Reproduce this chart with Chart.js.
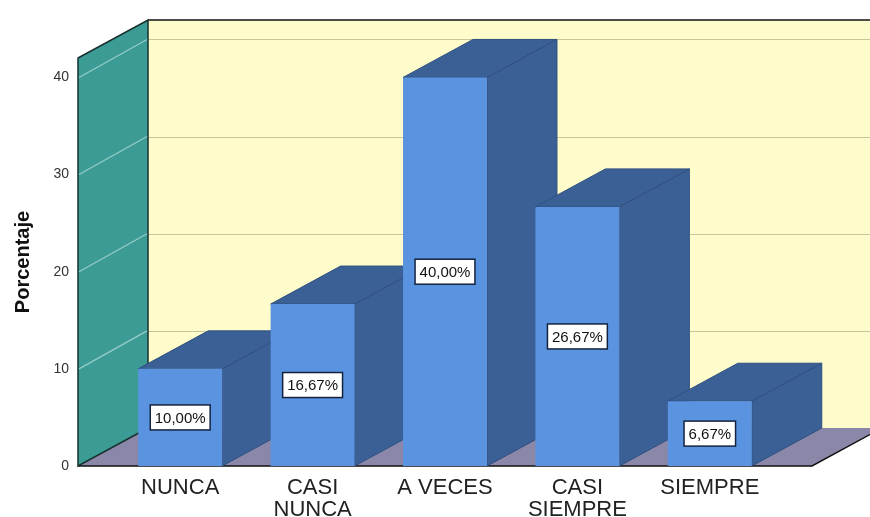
<!DOCTYPE html>
<html>
<head>
<meta charset="utf-8">
<script src="https://cdn.jsdelivr.net/npm/chart.js@4.4.1/dist/chart.umd.min.js"></script>
<style>
  body { margin: 0; background: #ffffff; }
  #wrap { width: 870px; height: 517px; }
</style>
</head>
<body>
<div id="wrap"><canvas id="myChart"></canvas></div>
<script>
// data
var categories = [['NUNCA'], ['CASI', 'NUNCA'], ['A VECES'], ['CASI', 'SIEMPRE'], ['SIEMPRE']];
var percentages = [10.00, 16.67, 40.00, 26.67, 6.67];
var tickValues = [0, 10, 20, 30, 40];
var yMax = 42;

// look of the fake 3d box
const DX = 70, DY = -38, SIDE = 36;
const frontColor = '#5a93df';
const darkColor = '#3a6096';

function pct(v){
    return v.toFixed(2).replace('.', ',') + '%';
}

function poly(ctx, pts, fill, stroke, lw){
    ctx.beginPath();
    ctx.moveTo(pts[0][0], pts[0][1]);
    for (var i = 1; i < pts.length; i++) ctx.lineTo(pts[i][0], pts[i][1]);
    ctx.closePath();
    if (fill){ ctx.fillStyle = fill; ctx.fill(); }
    if (stroke){ ctx.strokeStyle = stroke; ctx.lineWidth = lw || 1; ctx.stroke(); }
}

// walls, floor and grid drawn behind the bars
const box3d = {
    id: 'box3d',
    beforeDraw(chart){
        const ctx = chart.ctx, a = chart.chartArea, ys = chart.scales.y;
        const x0 = a.left - SIDE, x1 = a.right + SIDE;
        const yb = ys.getPixelForValue(0), yt = ys.getPixelForValue(yMax);
        ctx.save();
        // back wall
        ctx.fillStyle = '#fffccc';
        ctx.fillRect(x0 + DX, yt + DY, chart.width, yb - yt);
        // back wall grid
        ctx.strokeStyle = '#c8c59c';
        ctx.lineWidth = 1;
        tickValues.forEach(function(v){
            if (v === 0) return;
            let py = Math.round(ys.getPixelForValue(v) + DY) + 0.5;
            ctx.beginPath(); ctx.moveTo(x0 + DX, py); ctx.lineTo(chart.width, py); ctx.stroke();
        });
        // floor
        poly(ctx, [[x0, yb], [x1, yb], [x1 + DX, yb + DY], [x0 + DX, yb + DY]], '#8b87a8');
        ctx.strokeStyle = '#111'; ctx.lineWidth = 1.5;
        ctx.beginPath(); ctx.moveTo(x0, yb); ctx.lineTo(x1, yb); ctx.lineTo(x1 + DX, yb + DY); ctx.stroke();
        // top edge of back wall
        ctx.beginPath(); ctx.moveTo(x0 + DX, yt + DY); ctx.lineTo(chart.width, yt + DY); ctx.stroke();
        // left wall
        poly(ctx, [[x0, yt], [x0 + DX, yt + DY], [x0 + DX, yb + DY], [x0, yb]], '#3c9b95', '#16302e', 1.5);
        ctx.strokeStyle = 'rgba(225,245,240,0.55)'; ctx.lineWidth = 1.2;
        tickValues.forEach(function(v){
            if (v === 0) return;
            let py = ys.getPixelForValue(v);
            ctx.beginPath(); ctx.moveTo(x0 + 1, py); ctx.lineTo(x0 + DX - 1, py + DY); ctx.stroke();
        });
        ctx.restore();
    },
    // top and side faces of each bar, the library draws the fronts over them
    beforeDatasetsDraw(chart){
        const ctx = chart.ctx;
        ctx.save();
        chart.getDatasetMeta(0).data.forEach(function(bar){
            let l = bar.x - bar.width / 2, r = bar.x + bar.width / 2, t = bar.y, b = bar.base;
            poly(ctx, [[r, t], [r + DX, t + DY], [r + DX, b + DY], [r, b]], darkColor, '#2f5080', 1);
            poly(ctx, [[l, t], [r, t], [r + DX, t + DY], [l + DX, t + DY]], darkColor, '#2f5080', 1);
        });
        ctx.restore();
    },
    // value boxes in the middle of each bar
    afterDatasetsDraw(chart){
        const ctx = chart.ctx;
        ctx.save();
        ctx.font = '15px "Liberation Sans", Arial, sans-serif';
        ctx.textAlign = 'center';
        ctx.textBaseline = 'middle';
        chart.getDatasetMeta(0).data.forEach(function(bar, i){
            let txt = pct(percentages[i]);
            let w = ctx.measureText(txt).width + 9, h = 25;
            let cy = (bar.y + bar.base) / 2;
            ctx.fillStyle = '#ffffff';
            ctx.fillRect(bar.x - w / 2, cy - h / 2, w, h);
            ctx.strokeStyle = '#13233f'; ctx.lineWidth = 1.5;
            ctx.strokeRect(bar.x - w / 2, cy - h / 2, w, h);
            ctx.fillStyle = '#111';
            ctx.fillText(txt, bar.x, cy + 1);
        });
        ctx.restore();
    }
};

var ctx = document.getElementById('myChart');
var barChart = new Chart(ctx, {
    type: 'bar',
    data: {
        labels: categories,
        datasets: [{
            data: percentages,
            backgroundColor: frontColor,
            borderWidth: 0,
            barPercentage: 0.634,
            categoryPercentage: 1
        }]
    },
    options: {
        responsive: true,
        maintainAspectRatio: false,
        animation: false,
        devicePixelRatio: 1,
        layout: { padding: { top: 58, right: 94, left: 0, bottom: 0 } },
        plugins: { legend: { display: false }, tooltip: { enabled: false } },
        scales: {
            x: {
                grid: { display: false, drawTicks: false },
                border: { display: false },
                ticks: {
                    color: '#222',
                    padding: 11,
                    maxRotation: 0,
                    font: { family: '"Liberation Sans", Arial, sans-serif', size: 22, lineHeight: 1.0 }
                },
                afterFit: function(s){ s.height = 51; }
            },
            y: {
                min: 0,
                max: yMax,
                grid: { display: false, drawTicks: false },
                border: { display: false },
                ticks: {
                    stepSize: 10,
                    color: '#333',
                    padding: 45,
                    font: { family: '"Liberation Sans", Arial, sans-serif', size: 14 }
                },
                afterBuildTicks: function(s){
                    s.ticks = tickValues.map(function(v){ return { value: v }; });
                },
                title: {
                    display: true,
                    text: 'Porcentaje',
                    color: '#111',
                    padding: { top: 11, bottom: 0 },
                    font: { family: '"Liberation Sans", Arial, sans-serif', size: 20, weight: 'bold' }
                },
                afterFit: function(s){
                    s.width = 114;
                    s.paddingTop = 0;
                    s.paddingBottom = 0;
                }
            }
        }
    },
    plugins: [box3d]
});
</script>
</body>
</html>
